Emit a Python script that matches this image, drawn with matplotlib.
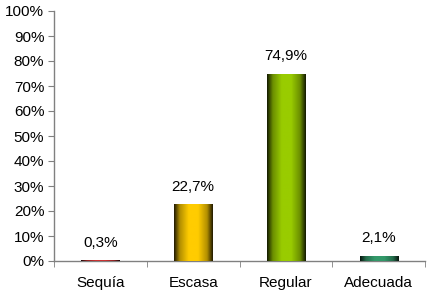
import numpy as np
import matplotlib
matplotlib.use("Agg")
import matplotlib.pyplot as plt
from matplotlib.colors import LinearSegmentedColormap

categories = ["Sequía", "Escasa", "Regular", "Adecuada"]
values = [0.3, 22.7, 74.9, 2.1]
labels = ["0,3%", "22,7%", "74,9%", "2,1%"]
colors = ["#CC3333", "#FFCC00", "#99CC00", "#33996A"]
yticks = [0, 10, 20, 30, 40, 50, 60, 70, 80, 90, 100]

plt.rcParams["font.family"] = ["Liberation Sans", "DejaVu Sans"]

fig = plt.figure(figsize=(4.42, 3.0), dpi=100)
ax = fig.add_axes([54/442, 1 - 261/300, (425-54)/442, 250/300])

x = np.arange(len(categories))
bars = ax.bar(x, values, width=0.41, color=colors, edgecolor="none", zorder=2)

grad = np.linspace(0, 1, 256)
for b, c in zip(bars, colors):
    rgb = np.array(matplotlib.colors.to_rgb(c))
    dark = rgb * 0.12
    cmap = LinearSegmentedColormap.from_list(
        "g", [(0, dark), (0.15, rgb * 0.7), (0.38, rgb), (0.62, rgb), (0.85, rgb * 0.7), (1, dark)])
    x0, y0 = b.get_x(), b.get_y()
    w, h = b.get_width(), b.get_height()
    im = ax.imshow(grad[None, :], extent=[x0, x0 + w, y0, y0 + h], aspect="auto",
                   cmap=cmap, zorder=3, interpolation="bilinear")
    im.set_clip_path(b)

for xi, v, lab in zip(x, values, labels):
    ax.annotate(lab, (xi, v), xytext=(0, 7.5), textcoords="offset points",
                ha="center", va="bottom", fontsize=11, color="black")

ax.set_xlim(-0.5, len(categories) - 0.5)
ax.set_ylim(0, 100)
ax.set_yticks(yticks)
ax.set_yticklabels([f"{t}%" for t in yticks], fontsize=11)
ax.set_xticks(x)
ax.set_xticklabels(categories, fontsize=11)
ax.set_xticks(np.arange(len(categories) + 1) - 0.5, minor=True)
ax.tick_params(axis="x", which="major", length=0, pad=11)
ax.tick_params(axis="x", which="minor", length=4, color="#808080", direction="out")
ax.tick_params(axis="y", length=4, color="#808080", direction="out", pad=3)

for s in ["top", "right"]:
    ax.spines[s].set_visible(False)
for s in ["left", "bottom"]:
    ax.spines[s].set_color("#808080")
    ax.spines[s].set_linewidth(1.0)

fig.savefig("out.png", dpi=100)
